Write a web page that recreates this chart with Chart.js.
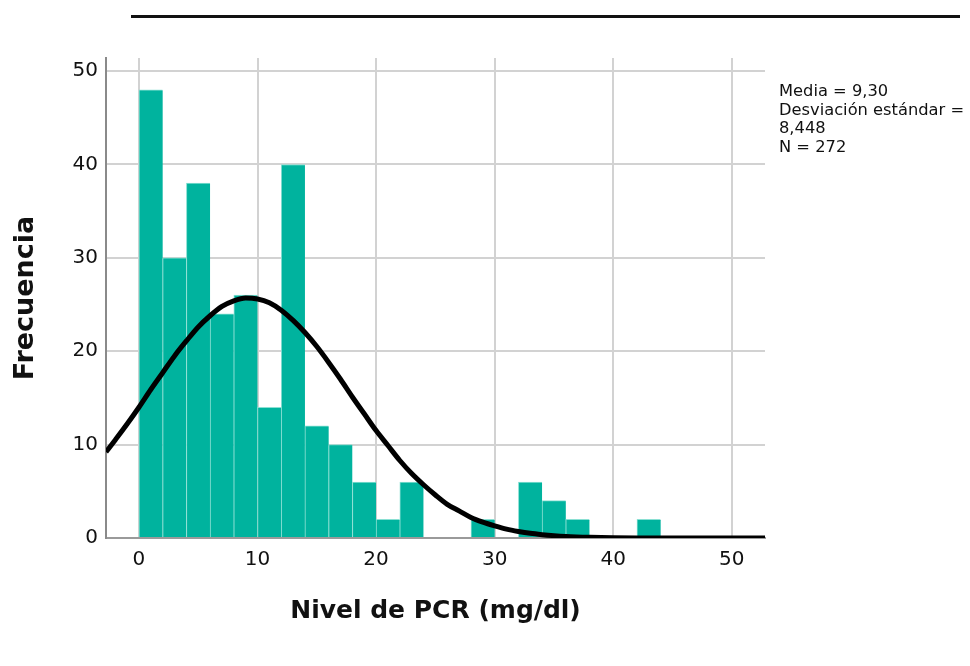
<!DOCTYPE html>
<html>
<head>
<meta charset="utf-8">
<script src="https://cdn.jsdelivr.net/npm/chart.js@4/dist/chart.umd.min.js"></script>
<style>
  html, body { margin: 0; padding: 0; background: #ffffff; }
  #wrap { position: relative; width: 970px; height: 666px; }
  #topRule { position: absolute; left: 131px; top: 15px; width: 829px; height: 3px; background: #111111; }
  #stats { position: absolute; left: 779px; top: 82px; font-family: "DejaVu Sans", sans-serif; font-size: 16.3px; line-height: 18.5px; color: #111111; white-space: nowrap; }
  canvas { position: absolute; left: 0; top: 0; }
</style>
</head>
<body>
<div id="wrap">
  <canvas id="c" width="970" height="666"></canvas>
  <div id="topRule"></div>
  <div id="stats"><div>Media = 9,30</div><div>Desviación estándar =</div><div>8,448</div><div>N = 272</div></div>
</div>
<script>
// Histogram bins (bin centres, width 2 mg/dl) and frequencies
const binCenters = [1, 3, 5, 7, 9, 11, 13, 15, 17, 19, 21, 23, 25, 27, 29, 31, 33, 35, 37, 39, 41, 43];
const frequencies = [48, 30, 38, 24, 26, 14, 40, 12, 10, 6, 2, 6, 0, 0, 2, 0, 6, 4, 2, 0, 0, 2];

// Normal curve overlay
const curveX = [-2.78, -2, -1, 0, 1, 2, 3, 4, 5, 6, 7, 8, 9, 10, 11, 12, 13, 14, 15, 16, 17, 18, 19, 20, 21, 22, 23, 24, 25, 26, 27, 28, 29, 30, 31, 32, 33, 34, 35, 36, 38, 40, 42, 45, 48, 52.8];
const curveY = [9.2, 10.5, 12.2, 14.0, 15.9, 17.7, 19.5, 21.1, 22.6, 23.8, 24.8, 25.4, 25.7, 25.6, 25.2, 24.4, 23.3, 22.0, 20.5, 18.8, 17.0, 15.1, 13.3, 11.5, 9.9, 8.3, 6.9, 5.7, 4.6, 3.6, 2.9, 2.2, 1.7, 1.3, 0.95, 0.7, 0.5, 0.36, 0.25, 0.17, 0.08, 0.035, 0.013, 0.002, 0, 0];

// Axis tick values
const xTicks = [0, 10, 20, 30, 40, 50];
const yTicks = [0, 10, 20, 30, 40, 50];

const xLabel = 'Nivel de PCR (mg/dl)';
const yLabel = 'Frecuencia';

const barData = binCenters.map((x, i) => ({ x: x, y: frequencies[i] }));
const lineData = curveX.map((x, i) => ({ x: x, y: curveY[i] }));

new Chart(document.getElementById('c'), {
  type: 'bar',
  data: {
    datasets: [
      {
        type: 'line',
        data: lineData,
        borderColor: '#000000',
        borderWidth: 5,
        pointRadius: 0,
        cubicInterpolationMode: 'monotone',
        fill: false,
        order: 0
      },
      {
        type: 'bar',
        data: barData,
        backgroundColor: '#00b39e',
        borderColor: '#8ae0d3',
        borderWidth: { left: 1, top: 1, right: 0, bottom: 0 },
        borderSkipped: false,
        barPercentage: 1.0,
        categoryPercentage: 1.0,
        order: 1
      }
    ]
  },
  options: {
    responsive: false,
    animation: false,
    events: [],
    layout: { padding: { top: 58, right: 205, left: 0, bottom: 0 } },
    plugins: { legend: { display: false }, tooltip: { enabled: false } },
    scales: {
      x: {
        type: 'linear',
        min: -2.78,
        max: 52.8,
        bounds: 'data',
        offset: false,
        afterFit: (s) => { s.height = 128; },
        afterBuildTicks: (s) => { s.ticks = xTicks.map(v => ({ value: v })); },
        grid: { offset: false, color: '#d2d2d2', lineWidth: 2, drawTicks: false },
        border: { color: '#9a9a9a', width: 2 },
        ticks: { includeBounds: false, stepSize: 10, padding: 10, color: '#111111', font: { family: '"DejaVu Sans", sans-serif', size: 20 } },
        title: { display: true, text: xLabel, color: '#111111', padding: { top: 0, bottom: 40 }, font: { family: '"DejaVu Sans", sans-serif', size: 25, weight: 'bold' } }
      },
      y: {
        type: 'linear',
        min: 0,
        max: 51.4,
        bounds: 'data',
        afterFit: (s) => { s.width = 106; },
        afterBuildTicks: (s) => { s.ticks = yTicks.map(v => ({ value: v })); },
        grid: { color: '#d2d2d2', lineWidth: 2, drawTicks: false },
        border: { color: '#8a8a8a', width: 2 },
        ticks: { includeBounds: false, stepSize: 10, padding: 8, color: '#111111', font: { family: '"DejaVu Sans", sans-serif', size: 20 } },
        title: { display: true, text: yLabel, color: '#111111', padding: { top: 10, bottom: 0 }, font: { family: '"DejaVu Sans", sans-serif', size: 27, weight: 'bold' } }
      }
    }
  }
});
</script>
</body>
</html>
